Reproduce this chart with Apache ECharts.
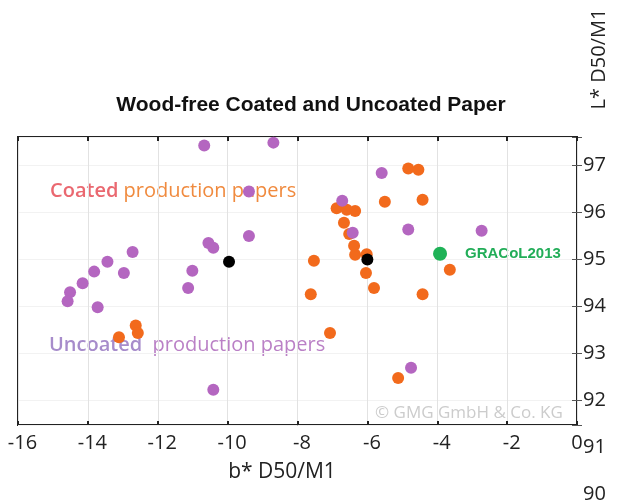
<!DOCTYPE html>
<html><head><meta charset="utf-8">
<script src="https://cdn.jsdelivr.net/npm/echarts@6/dist/echarts.min.js"></script>
<style>html,body{margin:0;padding:0;background:#fff}#c{width:618px;height:504px}</style>
</head><body><div id="c"></div>
<script>
const chartTitle = 'Wood-free Coated and Uncoated Paper';
const xAxisName = 'b* D50/M1';
const yAxisName = 'L* D50/M1';
const xTicks = [-16, -14, -12, -10, -8, -6, -4, -2, 0];
const yTickLabels = [90, 91, 92, 93, 94, 95, 96, 97];
const yPlotRange = [91.47, 97.61];

// Coated production papers (orange)
const coatedX = [-13.11, -12.63, -12.57, -7.07, -5.12, -7.62, -5.81, -6.04, -4.42, -3.64, -7.53, -6.02, -6.35, -6.38, -6.52, -6.67, -6.88, -6.59, -6.35, -5.50, -4.42, -4.83, -4.54];
const coatedY = [93.34, 93.59, 93.43, 93.43, 92.47, 94.26, 94.39, 94.71, 94.26, 94.78, 94.97, 95.11, 95.10, 95.29, 95.54, 95.78, 96.09, 96.06, 96.03, 96.23, 96.27, 96.94, 96.91];

// Uncoated production papers (purple)
const uncoatedX = [-10.67, -8.69, -9.39, -9.39, -10.55, -10.41, -11.01, -11.13, -12.72, -13.44, -13.82, -12.97, -14.15, -14.51, -14.58, -13.72, -10.41, -5.59, -6.72, -6.42, -4.83, -2.73, -4.75];
const uncoatedY = [97.43, 97.49, 96.45, 95.50, 95.35, 95.25, 94.76, 94.39, 95.16, 94.95, 94.74, 94.71, 94.49, 94.30, 94.11, 93.98, 92.22, 96.84, 96.25, 95.57, 95.64, 95.61, 92.69];

// Reference points (black)
const refX = [-9.96, -6.0];
const refY = [94.95, 95.0];

// GRACoL2013 (green)
const gracolX = [-3.92];
const gracolY = [95.12];

const zip = (xs, ys) => xs.map((x, i) => [x, ys[i]]);

const chart = echarts.init(document.getElementById('c'), null, {renderer: 'canvas'});
const FONT = '"Open Sans", "Noto Sans", sans-serif';
const xMin = xTicks[0], xMax = xTicks[xTicks.length - 1], xInt = xTicks[1] - xTicks[0];

chart.setOption({
  animation: false,
  backgroundColor: '#fff',
  grid: [
    {left: 18, right: 41, top: 137, bottom: 79, show: true, borderColor: '#222', borderWidth: 2, backgroundColor: 'transparent'},
    {left: 18, right: 41, top: 165.7, bottom: 10, show: false}
  ],
  xAxis: [
    {gridIndex: 0, type: 'value', min: xMin, max: xMax, interval: xInt,
     axisLine: {show: false}, axisTick: {show: true, inside: true, length: 4, lineStyle: {color: '#222', width: 2}},
     splitLine: {show: true, lineStyle: {color: '#e2e2e2', width: 1}},
     axisLabel: {show: true, margin: 8, fontSize: 20, fontFamily: FONT, color: '#222',
       formatter: v => v < 0 ? '{n|' + v + '}' : '{z|' + v + '}',
       rich: {n: {fontSize: 20, fontFamily: FONT, color: '#222', padding: [0, 0, 0, 9]},
              z: {fontSize: 20, fontFamily: FONT, color: '#222'}}}},
    {gridIndex: 0, type: 'value', position: 'top', min: xMin, max: xMax, interval: xInt,
     axisLine: {show: false}, axisTick: {show: true, inside: true, length: 4, lineStyle: {color: '#222', width: 2}},
     splitLine: {show: false}, axisLabel: {show: false}},
    {gridIndex: 1, type: 'value', min: xMin, max: xMax, show: false}
  ],
  yAxis: [
    {gridIndex: 0, type: 'value', min: yPlotRange[0], max: yPlotRange[1],
     axisLine: {show: false}, axisTick: {show: true, inside: true, length: 5, lineStyle: {color: '#555', width: 1}},
     splitLine: {show: true, lineStyle: {color: '#f2f2f2', width: 1}}, axisLabel: {show: false}},
    {gridIndex: 0, type: 'value', position: 'right', min: yPlotRange[0], max: yPlotRange[1],
     axisLine: {show: false}, axisTick: {show: true, inside: true, length: 5, lineStyle: {color: '#555', width: 1}},
     splitLine: {show: false}, axisLabel: {show: false}},
    {gridIndex: 1, type: 'value', position: 'right', min: yTickLabels[0], max: yTickLabels[yTickLabels.length - 1], interval: yTickLabels[1] - yTickLabels[0],
     axisLine: {show: false}, axisTick: {show: false}, splitLine: {show: false},
     axisLabel: {show: true, margin: 6, fontSize: 20, fontFamily: FONT, color: '#222'}}
  ],
  graphic: [
    {type: 'text', z: 0, x: 311, y: 105, style: {text: chartTitle, font: 'bold 21px "Liberation Sans", Arial, sans-serif', fill: '#111', align: 'center', verticalAlign: 'middle', textAlign: 'center', textVerticalAlign: 'middle'}},
    {type: 'text', z: 0, x: 282, y: 472, style: {text: xAxisName, font: '21px ' + FONT, fill: '#222', align: 'center', verticalAlign: 'middle', textAlign: 'center', textVerticalAlign: 'middle'}},
    {type: 'text', z: 0, x: 599, y: 59, rotation: Math.PI / 2, style: {text: yAxisName, font: '20px ' + FONT, fill: '#222', align: 'center', verticalAlign: 'middle', textAlign: 'center', textVerticalAlign: 'middle'}},
    {type: 'text', z: 0, x: 50, y: 191, style: {text: '{a|Coated} {b|production papers}', font: '20px ' + FONT, verticalAlign: 'middle', textVerticalAlign: 'middle',
      rich: {a: {fill: '#ea6870', color: '#ea6870', font: '600 20px ' + FONT}, b: {fill: '#f08a3e', color: '#f08a3e', font: '20px ' + FONT}}}},
    {type: 'text', z: 0, x: 49, y: 345, style: {text: '{a|Uncoated}  {b|production papers}', font: '20px ' + FONT, verticalAlign: 'middle', textVerticalAlign: 'middle',
      rich: {a: {fill: '#a78ccb', color: '#a78ccb', font: '600 20px ' + FONT}, b: {fill: '#ba80c6', color: '#ba80c6', font: '20px ' + FONT}}}},
    {type: 'text', z: 0, x: 465, y: 254, style: {text: 'GRACoL2013', font: 'bold 15px "Liberation Sans", Arial, sans-serif', fill: '#22ad58', verticalAlign: 'middle', textVerticalAlign: 'middle'}},
    {type: 'text', z: 0, x: 375, y: 413, style: {text: '\u00A9 GMG GmbH & Co. KG', font: '17px ' + FONT, fill: '#cccccc', verticalAlign: 'middle', textVerticalAlign: 'middle'}}
  ],
  series: [
    {type: 'scatter', xAxisIndex: 0, yAxisIndex: 0, data: zip(coatedX, coatedY), symbolSize: 12, itemStyle: {color: '#f26a1c', opacity: 1}, z: 3},
    {type: 'scatter', xAxisIndex: 0, yAxisIndex: 0, data: zip(uncoatedX, uncoatedY), symbolSize: 12, itemStyle: {color: '#b466c0', opacity: 1}, z: 4},
    {type: 'scatter', xAxisIndex: 0, yAxisIndex: 0, data: zip(refX, refY), symbolSize: 12, itemStyle: {color: '#000', opacity: 1}, z: 5},
    {type: 'scatter', xAxisIndex: 0, yAxisIndex: 0, data: zip(gracolX, gracolY), symbolSize: 14, itemStyle: {color: '#1fb257', opacity: 1}, z: 5}
  ]
});
</script></body></html>
